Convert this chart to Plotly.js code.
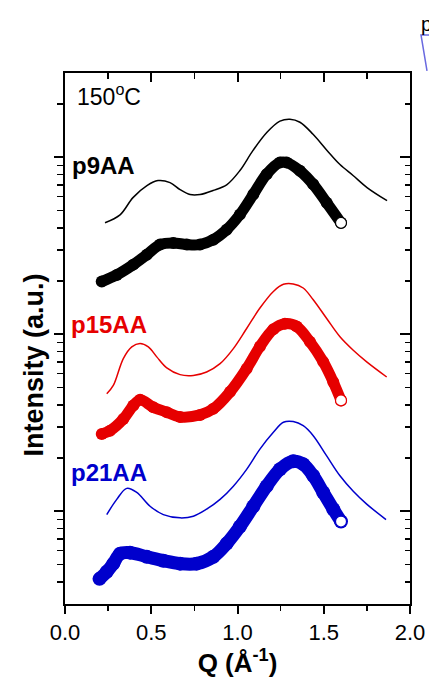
<!DOCTYPE html>
<html><head><meta charset="utf-8">
<script src="https://cdn.plot.ly/plotly-3.0.1.min.js"></script>
<style>html,body{margin:0;padding:0;background:#fff}#chart{width:429px;height:678px}</style>
</head><body><div id="chart"></div><script>
// ---- data (Q in 1/Å, intensity in a.u.) ----
const q_p9_fit  = [0.232,0.319,0.394,0.475,0.539,0.609,0.667,0.725,0.783,0.858,0.939,1.014,1.090,1.171,1.246,1.304,1.362,1.438,1.519,1.594,1.670,1.751,1.867];
const i_p9_fit  = [42.8,47.4,59.3,69.3,74.0,72.1,65.8,61.7,61.7,65.0,70.3,84.3,109.6,138.7,160.3,164.4,158.1,135.2,109.6,91.2,79.1,67.6,57.0];
const q_p9_exp  = [0.213,0.300,0.396,0.474,0.551,0.628,0.706,0.783,0.860,0.937,1.014,1.092,1.169,1.246,1.285,1.362,1.439,1.517,1.600];
const i_p9_exp  = [19.9,21.7,24.8,28.2,32.2,32.9,32.2,32.2,34.3,39.1,47.6,61.9,80.4,93.7,93.7,84.0,70.5,55.5,42.7];

const q_p15_fit = [0.242,0.280,0.338,0.387,0.435,0.483,0.532,0.590,0.667,0.744,0.821,0.899,0.976,1.053,1.130,1.208,1.266,1.323,1.381,1.439,1.517,1.594,1.671,1.749,1.865];
const i_p15_fit = [4.62,5.15,7.31,8.51,8.89,8.51,7.47,6.47,5.93,5.87,6.14,6.84,8.32,10.8,14.1,17.5,19.2,19.3,18.3,15.7,12.3,9.70,8.14,7.00,5.75];
const q_p15_exp = [0.213,0.261,0.338,0.396,0.435,0.512,0.590,0.667,0.783,0.860,0.957,1.053,1.130,1.208,1.275,1.343,1.420,1.497,1.555,1.600];
const i_p15_exp = [2.74,2.86,3.33,3.97,4.27,3.88,3.64,3.42,3.51,3.80,4.74,6.41,8.55,10.7,11.5,11.1,9.09,7.00,5.39,4.24];

const q_p21_fit = [0.242,0.300,0.358,0.416,0.493,0.570,0.667,0.744,0.821,0.899,0.976,1.053,1.130,1.208,1.266,1.323,1.381,1.439,1.517,1.594,1.671,1.749,1.861];
const i_p21_fit = [0.96,1.17,1.35,1.28,1.07,0.96,0.92,0.94,1.03,1.17,1.39,1.73,2.25,2.80,3.19,3.22,3.05,2.68,2.06,1.59,1.30,1.10,0.90];
const q_p21_exp = [0.200,0.242,0.280,0.319,0.377,0.474,0.570,0.667,0.763,0.860,0.937,1.014,1.092,1.169,1.246,1.323,1.381,1.439,1.497,1.555,1.600];
const i_p21_exp = [0.416,0.456,0.507,0.577,0.585,0.555,0.527,0.507,0.507,0.555,0.658,0.822,1.07,1.39,1.73,1.92,1.85,1.59,1.28,1.03,0.877];

const sampleNames = ['p9AA','p15AA','p21AA'];
const sampleColors = ['#000000','#e60000','#0000cc'];
const xTickVals = [0,0.5,1.0,1.5,2.0];
const xTickText = ['0.0','0.5','1.0','1.5','2.0'];
const xMinorVals = [0.25,0.75,1.25,1.75];
const yMajorVals = [1,10,100];
const yMinorVals = [0.4,0.5,0.6,0.7,0.8,0.9,2,3,4,5,6,7,8,9,20,30,40,50,60,70,80,90,200];
const yRange = [Math.log10(0.3), Math.log10(300)];
const tempLabel = '150<sup>o</sup>C';
const xTitle = '<b>Q (Å<sup>-1</sup>)</b>';
const yTitle = '<b>Intensity (a.u.)</b>';

// ---- traces ----
const FONT = '"Liberation Sans", Arial, sans-serif';
const sets = [
  [q_p9_fit, i_p9_fit, q_p9_exp, i_p9_exp],
  [q_p15_fit, i_p15_fit, q_p15_exp, i_p15_exp],
  [q_p21_fit, i_p21_fit, q_p21_exp, i_p21_exp]
];
const bandW = [11, 11, 13];
const traces = [];
sets.forEach((s, k) => {
  const c = sampleColors[k];
  traces.push({x: s[0], y: s[1], mode: 'lines', name: sampleNames[k] + ' fit',
    line: {color: c, width: 1.5, shape: 'spline', smoothing: 1}, hoverinfo: 'skip'});
  traces.push({x: s[2], y: s[3], mode: 'lines+markers', name: sampleNames[k],
    line: {color: c, width: bandW[k], shape: 'spline', smoothing: 1},
    marker: {symbol: 'circle', size: bandW[k] + 1, color: c, line: {width: 0}}, hoverinfo: 'skip'});
  const n = s[2].length - 1;
  traces.push({x: [s[2][n]], y: [s[3][n]], mode: 'markers', name: sampleNames[k] + ' end',
    marker: {symbol: 'circle', size: 11, color: '#ffffff', line: {color: c, width: 1.2}}, hoverinfo: 'skip'});
});
// empty trace binding the mirrored (top/right) axes
traces.push({x: [], y: [], xaxis: 'x2', yaxis: 'y2', mode: 'markers', hoverinfo: 'skip'});

const axLine = {showline: true, linewidth: 2, linecolor: '#000', showgrid: false, zeroline: false, fixedrange: true};

const layout = {
  width: 429, height: 678,
  margin: {l: 65, r: 19, t: 73, b: 74},
  paper_bgcolor: '#ffffff', plot_bgcolor: '#ffffff',
  showlegend: false,
  font: {family: FONT, color: '#000'},
  xaxis: Object.assign({}, axLine, {
    range: [0, 2], tickmode: 'array', tickvals: xTickVals, ticktext: xTickText,
    ticks: 'outside', ticklen: 8, tickwidth: 2, tickcolor: '#000',
    tickfont: {size: 22, family: FONT},
    minor: {tickmode: 'array', tickvals: xMinorVals, ticks: 'outside', ticklen: 5, tickwidth: 1.5, tickcolor: '#000', showgrid: false},
    title: {text: xTitle, font: {size: 26, family: FONT}, standoff: 4}
  }),
  yaxis: Object.assign({}, axLine, {
    type: 'log', range: yRange, tickmode: 'array', tickvals: yMajorVals, showticklabels: false,
    ticks: 'outside', ticklen: 9, tickwidth: 2, tickcolor: '#000',
    minor: {tickmode: 'array', tickvals: yMinorVals, ticks: 'outside', ticklen: 6, tickwidth: 1.5, tickcolor: '#000', showgrid: false}
  }),
  xaxis2: Object.assign({}, axLine, {
    overlaying: 'x', side: 'top', anchor: 'y2', range: [0, 2],
    tickmode: 'array', tickvals: xTickVals, showticklabels: false,
    ticks: 'inside', ticklen: 9, tickwidth: 2, tickcolor: '#000',
    minor: {tickmode: 'array', tickvals: xMinorVals, ticks: 'inside', ticklen: 6, tickwidth: 1.5, tickcolor: '#000', showgrid: false}
  }),
  yaxis2: Object.assign({}, axLine, {
    overlaying: 'y', side: 'right', anchor: 'x2', type: 'log', range: yRange,
    tickmode: 'array', tickvals: yMajorVals, showticklabels: false,
    ticks: 'inside', ticklen: 10, tickwidth: 2, tickcolor: '#000',
    minor: {tickmode: 'array', tickvals: yMinorVals, ticks: 'inside', ticklen: 5, tickwidth: 1.5, tickcolor: '#000', showgrid: false}
  }),
  annotations: [
    {text: yTitle, xref: 'paper', yref: 'paper', x: -0.09, y: 0.451, xanchor: 'center', yanchor: 'middle',
     textangle: -90, showarrow: false, font: {size: 27, family: FONT, color: '#000'}},
    {text: tempLabel, xref: 'paper', yref: 'paper', x: 0.030, y: 0.958, xanchor: 'left', yanchor: 'middle',
     showarrow: false, font: {size: 23, family: FONT, color: '#000'}},
    {text: '<b>' + sampleNames[0] + '</b>', xref: 'paper', yref: 'paper', x: 0.014, y: 0.826, xanchor: 'left', yanchor: 'middle',
     showarrow: false, font: {size: 24, family: FONT, color: sampleColors[0]}},
    {text: '<b>' + sampleNames[1] + '</b>', xref: 'paper', yref: 'paper', x: 0.012, y: 0.527, xanchor: 'left', yanchor: 'middle',
     showarrow: false, font: {size: 24, family: FONT, color: sampleColors[1]}},
    {text: '<b>' + sampleNames[2] + '</b>', xref: 'paper', yref: 'paper', x: 0.012, y: 0.248, xanchor: 'left', yanchor: 'middle',
     showarrow: false, font: {size: 24, family: FONT, color: sampleColors[2]}},
    {text: 'p', xref: 'paper', yref: 'paper', x: 1.026, y: 1.092, xanchor: 'left', yanchor: 'middle',
     showarrow: false, font: {size: 20, family: FONT, color: '#000'}}
  ],
  shapes: [
    {type: 'path', xref: 'paper', yref: 'paper', path: 'M 1.058 1.0716 L 1.0319 1.0716 L 1.0493 1.004',
     line: {color: '#6a6ae0', width: 1.5}}
  ]
};

Plotly.newPlot('chart', traces, layout, {staticPlot: true, displayModeBar: false});
</script></body></html>
